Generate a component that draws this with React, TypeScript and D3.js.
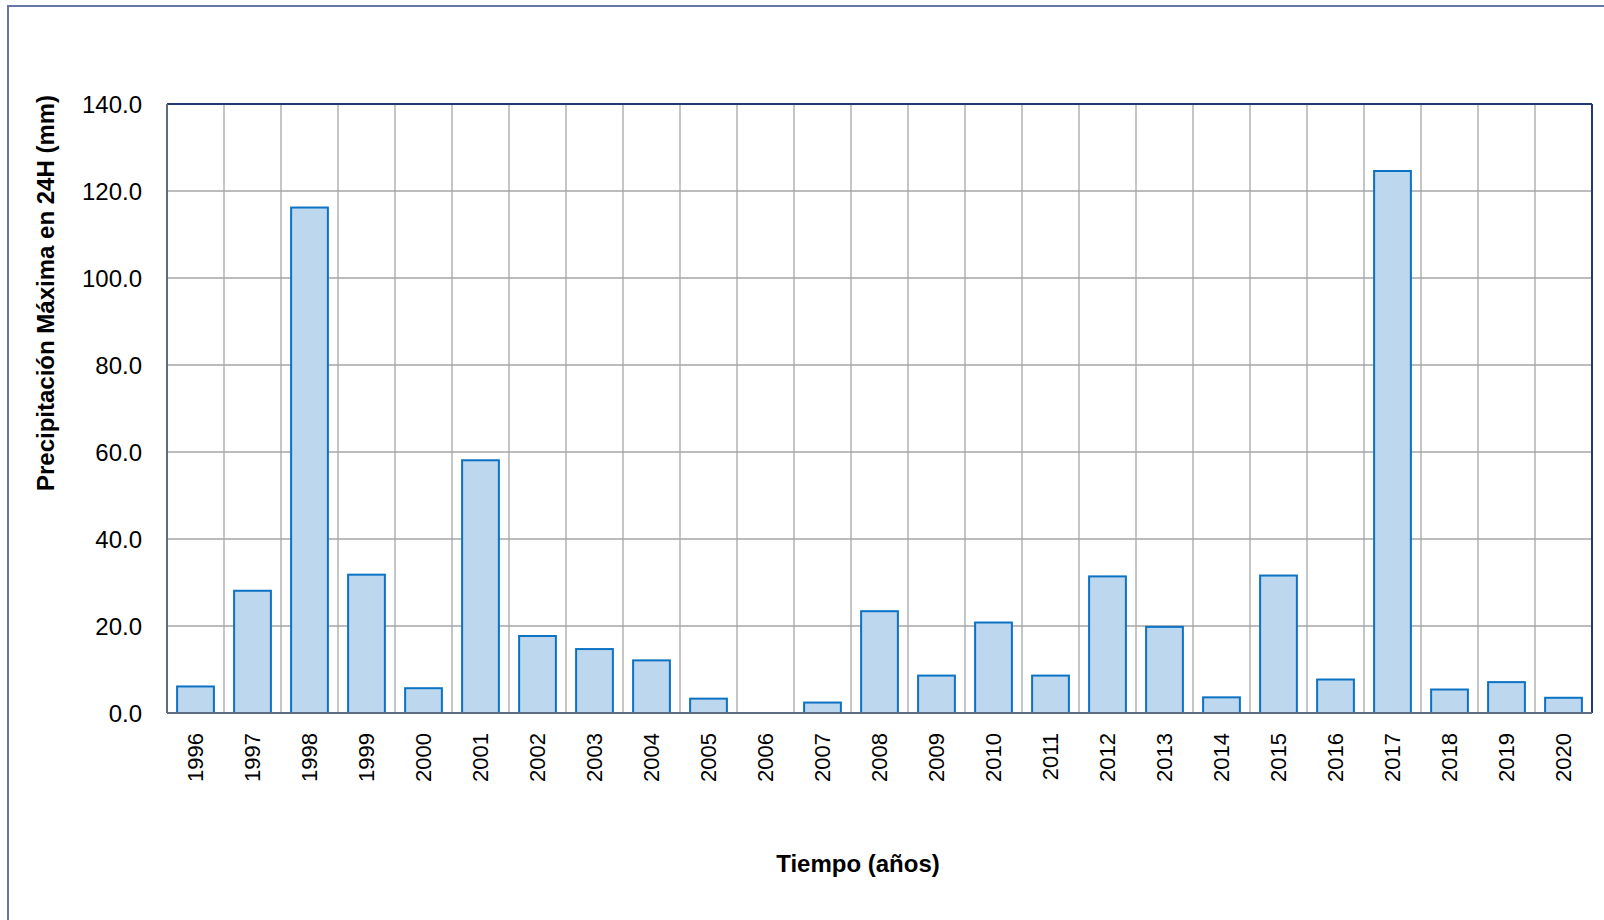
import * as d3 from "d3";

const years = [
  "1996", "1997", "1998", "1999", "2000", "2001", "2002", "2003", "2004",
  "2005", "2006", "2007", "2008", "2009", "2010", "2011", "2012", "2013",
  "2014", "2015", "2016", "2017", "2018", "2019", "2020",
];
const precip = [
  6.1, 28.1, 116.2, 31.8, 5.7, 58.1, 17.7, 14.7, 12.1, 3.3, 0, 2.4, 23.4,
  8.6, 20.8, 8.6, 31.4, 19.8, 3.6, 31.6, 7.7, 124.6, 5.4, 7.1, 3.5,
];
const yTicks = [0, 20, 40, 60, 80, 100, 120, 140];

export default function App() {
  const width = 1604;
  const height = 920;
  const plot = { left: 167, top: 104, right: 1592, bottom: 713 };

  const x = d3.scaleBand().domain(years).range([plot.left, plot.right]).paddingInner(0).paddingOuter(0);
  const y = d3.scaleLinear().domain([0, 140]).range([plot.bottom, plot.top]);
  const bw = x.bandwidth() / 1.55; // excel gap width 55%
  const font = "'Liberation Sans', Arial, sans-serif";

  return (
    <svg
      width={width}
      height={height}
      style={{ position: "absolute", left: 0, top: 0, background: "#fff" }}
    >
      <rect x={8} y={6} width={width} height={height} fill="#fff" stroke="#6676a6" strokeWidth={2} />

      {/* gridlines */}
      {yTicks.map((t) => (
        <line key={"h" + t} x1={plot.left} x2={plot.right} y1={y(t)} y2={y(t)} stroke="#a6a6a6" strokeWidth={1.3} />
      ))}
      {years.slice(1).map((yr) => (
        <line key={"v" + yr} x1={x(yr)} x2={x(yr)} y1={plot.top} y2={plot.bottom} stroke="#a6a6a6" strokeWidth={1.3} />
      ))}

      {/* bars */}
      {years.map((yr, i) => {
        const cx = (x(yr) as number) + x.bandwidth() / 2;
        return (
          <rect
            key={"b" + yr}
            x={cx - bw / 2}
            y={y(precip[i])}
            width={bw}
            height={plot.bottom - y(precip[i])}
            fill="#bdd7ee"
            stroke="#0b72c4"
            strokeWidth={2}
          />
        );
      })}

      {/* plot frame */}
      <line x1={plot.left} x2={plot.right} y1={plot.top} y2={plot.top} stroke="#1f3a70" strokeWidth={2} />
      <line x1={plot.right} x2={plot.right} y1={plot.top} y2={plot.bottom} stroke="#1f3a70" strokeWidth={2} />
      <line x1={plot.left} x2={plot.left} y1={plot.top} y2={plot.bottom} stroke="#5f6b80" strokeWidth={2} />
      <line x1={plot.left} x2={plot.right} y1={plot.bottom} y2={plot.bottom} stroke="#5f6b80" strokeWidth={2} />

      {/* y tick labels */}
      {yTicks.map((t) => (
        <text
          key={"yl" + t}
          x={142}
          y={y(t)}
          textAnchor="end"
          dominantBaseline="central"
          fontFamily={font}
          fontSize={24}
          fill="#000"
        >
          {d3.format(".1f")(t)}
        </text>
      ))}

      {/* x tick labels */}
      {years.map((yr) => {
        const cx = (x(yr) as number) + x.bandwidth() / 2;
        return (
          <text
            key={"xl" + yr}
            transform={`translate(${cx},733) rotate(-90)`}
            textAnchor="end"
            dominantBaseline="central"
            fontFamily={font}
            fontSize={22}
            fill="#000"
          >
            {yr}
          </text>
        );
      })}

      <text
        transform="translate(45,293) rotate(-90)"
        textAnchor="middle"
        dominantBaseline="central"
        fontFamily={font}
        fontSize={24}
        fontWeight="bold"
      >
        Precipitación Máxima en 24H (mm)
      </text>
      <text x={858} y={872} textAnchor="middle" fontFamily={font} fontSize={24} fontWeight="bold">
        Tiempo (años)
      </text>
    </svg>
  );
}
